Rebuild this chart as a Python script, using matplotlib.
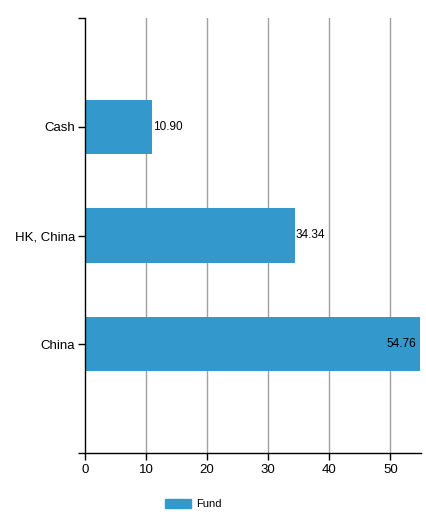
import matplotlib.pyplot as plt
from matplotlib.patches import Patch

plt.rcParams['font.family'] = ['Liberation Sans', 'DejaVu Sans']

categories = ['China', 'HK, China', 'Cash']
values = [54.76, 34.34, 10.90]
series_name = 'Fund'
bar_color = '#3399cc'

fig = plt.figure(figsize=(4.27, 5.12), dpi=100)
ax = fig.add_axes([85 / 427, 59 / 512, 336 / 427, 435 / 512])

pos = list(range(len(categories)))
ax.barh(pos, values, height=0.5, color=bar_color, zorder=2)

xmax = 55
for p, v in zip(pos, values):
    if v > xmax - 5:
        ax.text(v - 0.6, p, f'{v:.2f}', ha='right', va='center', fontsize=8.5, zorder=3)
    else:
        ax.text(v + 0.2, p, f'{v:.2f}', ha='left', va='center', fontsize=8.5, zorder=3)

ax.set_xlim(0, xmax)
ax.set_ylim(-1, 3)
ax.set_xticks([0, 10, 20, 30, 40, 50])
ax.set_yticks([-1] + pos + [3])
ax.set_yticklabels([''] + categories + [''])
ax.tick_params(axis='both', labelsize=9.5, length=5, width=1, color='black')
ax.tick_params(axis='x', pad=3)
ax.tick_params(axis='y', pad=2)

for x in [10, 20, 30, 40, 50]:
    ax.axvline(x, color='#a0a0a0', lw=1, zorder=1)

ax.spines['top'].set_visible(False)
ax.spines['right'].set_visible(False)
ax.spines['left'].set_bounds(-1, 3)
for s in ['left', 'bottom']:
    ax.spines[s].set_color('black')
    ax.spines[s].set_linewidth(1)

fig.legend(handles=[Patch(color=bar_color, label=series_name)], loc='center',
           bbox_to_anchor=(193 / 427, 1 - 504 / 512), frameon=False, fontsize=8,
           handlelength=2.4, handleheight=0.9, handletextpad=0.4)

fig.savefig('out.png', dpi=100)
